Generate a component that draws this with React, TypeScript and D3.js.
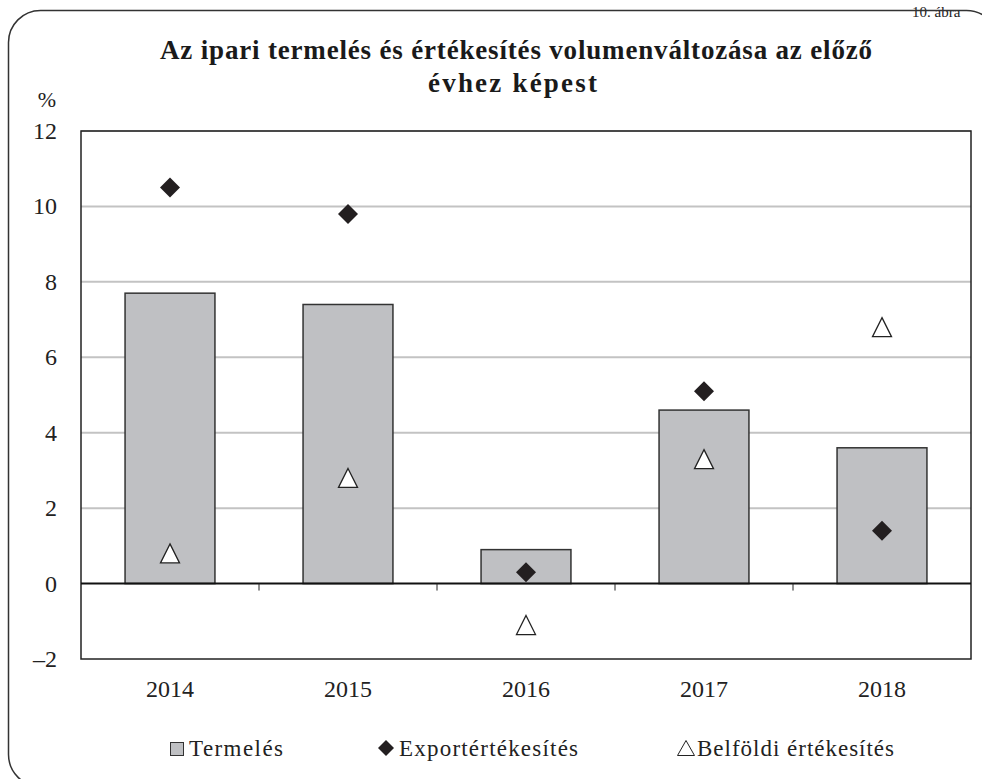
import React from "react";
import * as d3 from "d3";

const categories = ["2014", "2015", "2016", "2017", "2018"];
const termeles = [7.7, 7.4, 0.9, 4.6, 3.6];
const export_ = [10.5, 9.8, 0.3, 5.1, 1.4];
const belfoldi = [0.8, 2.8, -1.1, 3.3, 6.8];
const yTicks = [-2, 0, 2, 4, 6, 8, 10, 12];
const legendLabels = ["Termelés", "Exportértékesítés", "Belföldi értékesítés"];
const titleLines = ["Az ipari termelés és értékesítés volumenváltozása az előző", "évhez képest"];

const W = 982, H = 779;
const L = 81, R = 971, T = 131, B = 659;
const FONT = "'Liberation Serif', 'Times New Roman', serif";

export default function App() {
  const x = d3.scaleBand<string>().domain(categories).range([L, R]).paddingInner(0).paddingOuter(0);
  const y = d3.scaleLinear().domain([-2, 12]).range([B, T]);
  const bw = x.bandwidth() * 0.505;
  const fmt = (v: number) => (v < 0 ? "\u2013" + Math.abs(v) : String(v));
  const diamond = (cx: number, cy: number, r: number) =>
    `M${cx},${cy - r}L${cx + r},${cy}L${cx},${cy + r}L${cx - r},${cy}Z`;
  const tri = (cx: number, cy: number, w: number, h: number) =>
    `M${cx},${cy - h / 2}L${cx + w / 2},${cy + h / 2}L${cx - w / 2},${cy + h / 2}Z`;

  return (
    <svg width={W} height={H} style={{ position: "absolute", left: 0, top: 0 }} fontFamily={FONT}>
      <rect x={0} y={0} width={W} height={H} fill="#fff" />
      <text x={912} y={17} fontSize={15} fill="#222">10. ábra</text>
      <rect x={8.5} y={10.5} width={990} height={776} rx={32} ry={32} fill="none" stroke="#333" strokeWidth={1.5} />
      <text x={160} y={59} textLength={712} fontSize={27} fontWeight="bold" fill="#1a1a1a">{titleLines[0]}</text>
      <text x={428} y={92} textLength={169} fontSize={27} fontWeight="bold" fill="#1a1a1a">{titleLines[1]}</text>
      <text x={47} y={107} textAnchor="middle" fontSize={22} fill="#222">%</text>
      {yTicks.filter(v => v > 0).map(v => (
        <line key={"g" + v} x1={L} x2={R} y1={y(v)} y2={y(v)} stroke="#c3c3c3" strokeWidth={2} />
      ))}
      {yTicks.map(v => (
        <text key={"t" + v} x={57} y={y(v) + 8} textAnchor="end" fontSize={24} fill="#222">{fmt(v)}</text>
      ))}
      {categories.map((c, i) => (
        <rect key={"b" + c} x={x(c)! + (x.bandwidth() - bw) / 2} width={bw}
          y={y(Math.max(0, termeles[i]))} height={Math.abs(y(termeles[i]) - y(0))}
          fill="#bfc0c3" stroke="#333" strokeWidth={1.5} />
      ))}
      <rect x={L} y={T} width={R - L} height={B - T} fill="none" stroke="#222" strokeWidth={1.5} />
      <line x1={L} x2={R} y1={y(0)} y2={y(0)} stroke="#111" strokeWidth={2} />
      {categories.slice(1).map(c => (
        <line key={"k" + c} x1={x(c)!} x2={x(c)!} y1={y(0)} y2={y(0) + 7} stroke="#222" strokeWidth={1} />
      ))}
      {categories.map((c, i) => (
        <path key={"d" + c} d={diamond(x(c)! + x.bandwidth() / 2, y(export_[i]), 10)} fill="#231f20" />
      ))}
      {categories.map((c, i) => (
        <path key={"tr" + c} d={tri(x(c)! + x.bandwidth() / 2, y(belfoldi[i]), 19, 19)} fill="#fff" stroke="#222" strokeWidth={1.3} />
      ))}
      {categories.map(c => (
        <text key={"x" + c} x={x(c)! + x.bandwidth() / 2} y={697} textAnchor="middle" fontSize={24} fill="#222">{c}</text>
      ))}
      <rect x={170.5} y={742.5} width={13} height={13} fill="#bfc0c3" stroke="#333" strokeWidth={1} />
      <text x={189} y={756} textLength={94} fontSize={23} fill="#222">{legendLabels[0]}</text>
      <path d={diamond(386, 748, 8)} fill="#231f20" />
      <text x={399} y={756} textLength={179} fontSize={23} fill="#222">{legendLabels[1]}</text>
      <path d={tri(686, 748, 17, 15)} fill="#fff" stroke="#222" strokeWidth={1} />
      <text x={697} y={756} textLength={197} fontSize={23} fill="#222">{legendLabels[2]}</text>
    </svg>
  );
}
